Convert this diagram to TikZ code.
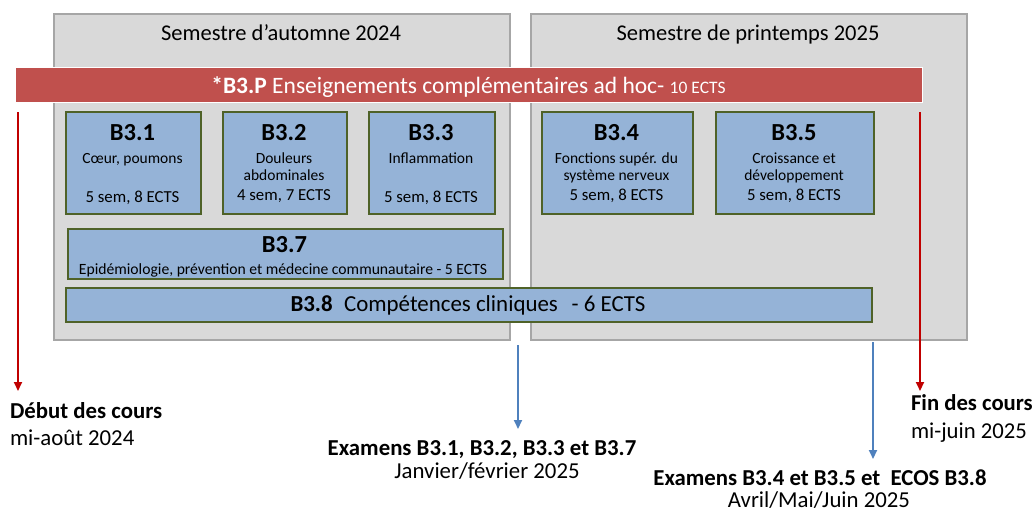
\documentclass[tikz,border=0pt]{standalone}
\usepackage{fontspec}
\setmainfont{Carlito}
\usetikzlibrary{arrows.meta}
\definecolor{semfill}{HTML}{D9D9D9}
\definecolor{semdraw}{HTML}{A6A6A6}
\definecolor{barred}{HTML}{C0504D}
\definecolor{boxblue}{HTML}{95B3D7}
\definecolor{boxgreen}{HTML}{4F6228}
\definecolor{arrred}{HTML}{C00000}
\definecolor{arrblue}{HTML}{4F81BD}
\newcommand{\fs}[1]{\fontsize{#1}{#1}\selectfont}
\tikzset{
  sembox/.style={draw=semdraw, fill=semfill, line width=1.5pt, anchor=north west, inner sep=0pt},
  modbox/.style={draw=boxgreen, fill=boxblue, line width=1.5pt, anchor=north west, inner sep=0pt},
  redbar/.style={draw=white, fill=barred, line width=1pt, anchor=north west, inner sep=0pt},
  lbl/.style={anchor=base, inner sep=0pt, outer sep=0pt},
  lbll/.style={anchor=base west, inner sep=0pt, outer sep=0pt},
  redarrow/.style={draw=arrred, line width=2pt, -{Triangle[width=8pt,length=9pt]}},
  bluearrow/.style={draw=arrblue, line width=2pt, -{Triangle[width=8pt,length=9pt]}},
}
\begin{document}
\begin{tikzpicture}[x=1pt,y=-1pt]
\useasboundingbox (0,0) rectangle (1036,515);
% semesters
\node[sembox, minimum width=456pt, minimum height=326pt] (semA) at (53,13) {};
\node[sembox, minimum width=436pt, minimum height=326pt] (semB) at (530,13) {};
\node[lbl] (semAt) at (281,40) {\fs{22.5}Semestre d’automne 2024};
\node[lbl] (semBt) at (748,40) {\fs{22.5}Semestre de printemps 2025};
% red bar
\node[redbar, minimum width=907pt, minimum height=35pt] (b3p) at (15,67) {};
\node[lbl, text=white] (b3pt) at (468.5,93) {\fs{23.5}\textbf{*B3.P} Enseignements complémentaires ad hoc- {\fs{17.5}10 ECTS}};
% module boxes
\node[modbox, minimum width=135pt, minimum height=102pt] (b31) at (65,111) {};
\node[modbox, minimum width=124pt, minimum height=102pt] (b32) at (222,111) {};
\node[modbox, minimum width=126pt, minimum height=102pt] (b33) at (368,111) {};
\node[modbox, minimum width=151pt, minimum height=102pt] (b34) at (541,111) {};
\node[modbox, minimum width=158pt, minimum height=102pt] (b35) at (715,111) {};
\node[modbox, minimum width=435pt, minimum height=50pt] (b37) at (67,228) {};
\node[modbox, minimum width=806pt, minimum height=34pt] (b38) at (65,287) {};
% B3.1
\node[lbl] (b31a) at (132.5,140) {\fs{24.5}\textbf{B3.1}};
\node[lbl] (b31b) at (132.5,163) {\fs{15.5}Cœur, poumons};
\node[lbl] (b31c) at (132.5,202) {\fs{16.8}5 sem, 8 ECTS};
% B3.2
\node[lbl] (b32a) at (284,140) {\fs{24.5}\textbf{B3.2}};
\node[lbl] (b32b) at (284,163) {\fs{15.5}Douleurs};
\node[lbl] (b32c) at (284,180) {\fs{15.5}abdominales};
\node[lbl] (b32d) at (284,200) {\fs{16.8}4 sem, 7 ECTS};
% B3.3
\node[lbl] (b33a) at (431,140) {\fs{24.5}\textbf{B3.3}};
\node[lbl] (b33b) at (431,163) {\fs{15.5}Inflammation};
\node[lbl] (b33c) at (431,202) {\fs{16.8}5 sem, 8 ECTS};
% B3.4
\node[lbl] (b34a) at (616.5,140) {\fs{24.5}\textbf{B3.4}};
\node[lbl] (b34b) at (616.5,163) {\fs{15.5}Fonctions supér. du};
\node[lbl] (b34c) at (616.5,180) {\fs{15.5}système nerveux};
\node[lbl] (b34d) at (616.5,200) {\fs{16.8}5 sem, 8 ECTS};
% B3.5
\node[lbl] (b35a) at (794,140) {\fs{24.5}\textbf{B3.5}};
\node[lbl] (b35b) at (794,163) {\fs{15.5}Croissance et};
\node[lbl] (b35c) at (794,180) {\fs{15.5}développement};
\node[lbl] (b35d) at (794,200) {\fs{16.8}5 sem, 8 ECTS};
% B3.7
\node[lbl] (b37a) at (284.5,252) {\fs{24.5}\textbf{B3.7}};
\node[lbl] (b37b) at (283,274) {\fs{15.65}Epidémiologie, prévention et médecine communautaire - 5 ECTS};
% B3.8
\node[lbl] (b38a) at (468,311) {\fs{22.9}\textbf{B3.8}\hspace{0.5em}Compétences cliniques\hspace{0.6em}- 6 ECTS};
% bottom labels
\node[lbll] (debut) at (10,418) {\fs{22.8}\textbf{Début des cours}};
\node[lbll] (debut2) at (10,445) {\fs{22.8}mi-août 2024};
\node[lbl] (exa1) at (482,455) {\fs{22.8}\textbf{Examens B3.1, B3.2, B3.3 et B3.7}};
\node[lbl] (exa1b) at (487,478) {\fs{22.8}Janvier/février 2025};
\node[lbll] (fin) at (911,410) {\fs{22.7}\textbf{Fin des cours}};
\node[lbll] (fin2) at (911,438) {\fs{22.7}mi-juin 2025};
\node[lbl] (exa2) at (820,485) {\fs{22.8}\textbf{Examens B3.4 et B3.5 et\ \ ECOS B3.8}};
\node[lbl] (exa2b) at (819,507) {\fs{22.8}Avril/Mai/Juin 2025};
% arrows
\coordinate (r1s) at (18,112);
\coordinate (r1e) at (18,391);
\coordinate (r2s) at (920,112);
\coordinate (r2e) at (920,391);
\coordinate (a1s) at (518,345);
\coordinate (a1e) at (518,429);
\coordinate (a2s) at (873,342);
\coordinate (a2e) at (873,459);
\draw[redarrow] (r1s) -- (r1e);
\draw[redarrow] (r2s) -- (r2e);
\draw[bluearrow] (a1s) -- (a1e);
\draw[bluearrow] (a2s) -- (a2e);
\end{tikzpicture}
\end{document}
